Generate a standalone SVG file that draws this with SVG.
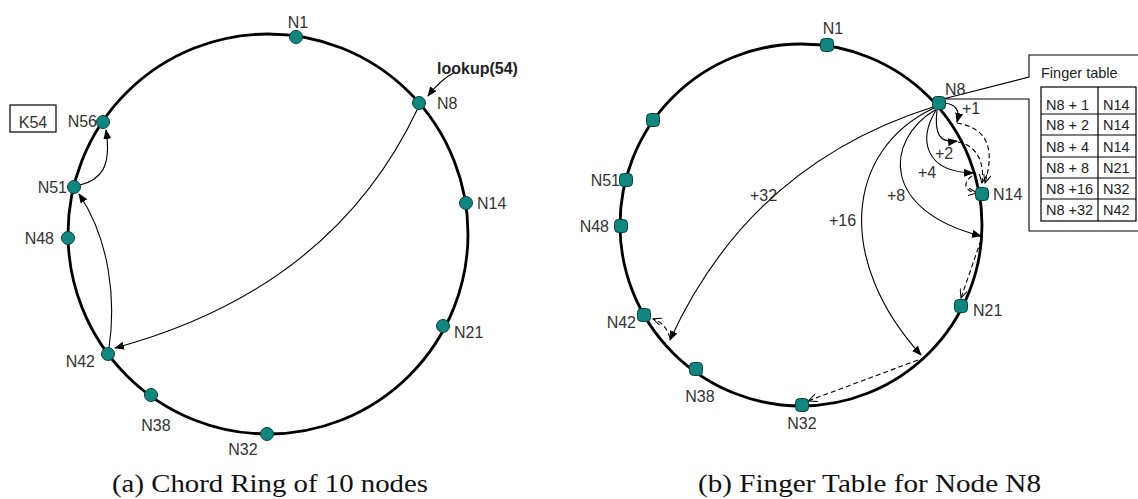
<svg xmlns="http://www.w3.org/2000/svg" width="1138" height="499" viewBox="0 0 1138 499">
<style>
.ring{fill:none;stroke:#000;stroke-width:2.8}
.nd{fill:#10867f;stroke:#0a3f3c;stroke-width:1}
.lbl{font-family:"Liberation Sans",Arial,sans-serif;font-size:16px;fill:#333}
.tbl{font-family:"Liberation Sans",Arial,sans-serif;font-size:14.5px;fill:#222}
.cap{font-family:"Liberation Serif","Times New Roman",serif;font-size:26px;fill:#111}
.arr{fill:none;stroke:#000;stroke-width:1.1}
.dash{fill:none;stroke:#000;stroke-width:1.1;stroke-dasharray:5 3}
</style>
<defs>
<marker id="ah" markerWidth="10" markerHeight="8" refX="9" refY="4" orient="auto" markerUnits="userSpaceOnUse">
<path d="M0,0 L10,4 L0,8 z" fill="#000"/>
</marker>
<marker id="oh" markerWidth="10" markerHeight="8" refX="9" refY="4" orient="auto" markerUnits="userSpaceOnUse">
<path d="M0,0 L9,4 L0,8" fill="none" stroke="#000" stroke-width="1"/>
</marker>
</defs>
<rect width="1138" height="499" fill="#fff"/>

<!-- Left panel -->
<g id="ringA">
<circle class="ring" cx="268" cy="234" r="200"/>
</g>
<g id="connectorsA">
<path class="arr" d="M455,72 Q440,80 428,96" marker-end="url(#ah)"/>
<path class="arr" d="M418,108 Q333,289 115,348" marker-end="url(#ah)"/>
<path class="arr" d="M109,348 C116,300 110,240 79,194" marker-end="url(#ah)"/>
<path class="arr" d="M80,185 C100,180 112,168 106,130" marker-end="url(#ah)"/>
</g>
<g id="a-N1"><circle class="nd" cx="296" cy="37" r="6.5"/><text class="lbl" x="298" y="28" text-anchor="middle">N1</text></g>
<g id="a-N8"><circle class="nd" cx="419" cy="103" r="6.5"/><text class="lbl" x="437" y="109">N8</text></g>
<g id="a-lookup"><text x="437" y="74" font-family="Liberation Sans,Arial,sans-serif" font-size="16" font-weight="bold" fill="#222">lookup(54)</text></g>
<g id="a-N14"><circle class="nd" cx="466" cy="203" r="6.5"/><text class="lbl" x="477" y="209">N14</text></g>
<g id="a-N21"><circle class="nd" cx="443" cy="326" r="6.5"/><text class="lbl" x="454" y="338">N21</text></g>
<g id="a-N32"><circle class="nd" cx="267" cy="434" r="6.5"/><text class="lbl" x="243" y="455" text-anchor="middle">N32</text></g>
<g id="a-N38"><circle class="nd" cx="151" cy="395" r="6.5"/><text class="lbl" x="156" y="431" text-anchor="middle">N38</text></g>
<g id="a-N42"><circle class="nd" cx="108" cy="354" r="6.5"/><text class="lbl" x="95" y="367" text-anchor="end">N42</text></g>
<g id="a-N48"><circle class="nd" cx="68" cy="238" r="6.5"/><text class="lbl" x="54" y="244" text-anchor="end">N48</text></g>
<g id="a-N51"><circle class="nd" cx="74" cy="187" r="6.5"/><text class="lbl" x="67" y="193" text-anchor="end">N51</text></g>
<g id="a-N56"><circle class="nd" cx="103" cy="122" r="6.5"/><text class="lbl" x="97" y="127" text-anchor="end">N56</text></g>
<g id="a-K54"><rect x="10" y="105" width="46" height="27" fill="#fff" stroke="#000" stroke-width="1.2"/><text class="lbl" x="33" y="124" text-anchor="middle" dominant-baseline="middle">K54</text></g>
<text class="cap" x="112" y="492" textLength="316" lengthAdjust="spacingAndGlyphs">(a) Chord Ring of 10 nodes</text>

<!-- Right panel -->
<g id="ringB">
<circle class="ring" cx="801" cy="225" r="181" stroke-width="2.5"/>
</g>
<g id="fingertable">
<path d="M1142,55 L1029,55 L1029,77 L943,99 L1029,99 L1029,231 L1142,231" fill="#fff" stroke="#000" stroke-width="1.1"/>
<text class="tbl" x="1041" y="78">Finger table</text>
<rect x="1041" y="87" width="95" height="134" fill="none" stroke="#000" stroke-width="1.2"/>
<path d="M1041,114 H1136 M1041,135 H1136 M1041,157 H1136 M1041,178 H1136 M1041,199 H1136 M1098,87 V221" stroke="#000" stroke-width="1.2"/>
<text class="tbl" x="1046" y="110">N8 + 1</text><text class="tbl" x="1103" y="110">N14</text>
<text class="tbl" x="1046" y="130">N8 + 2</text><text class="tbl" x="1103" y="130">N14</text>
<text class="tbl" x="1046" y="152">N8 + 4</text><text class="tbl" x="1103" y="152">N14</text>
<text class="tbl" x="1046" y="173">N8 + 8</text><text class="tbl" x="1103" y="173">N21</text>
<text class="tbl" x="1046" y="194">N8 +16</text><text class="tbl" x="1103" y="194">N32</text>
<text class="tbl" x="1046" y="215">N8 +32</text><text class="tbl" x="1103" y="215">N42</text>
</g>
<g id="connectorsB">
<path class="arr" d="M944,103 C956,104 960,110 957,122" marker-end="url(#ah)"/>
<path class="arr" d="M937,110 C934,135 940,143 957,141" marker-end="url(#ah)"/>
<path class="arr" d="M936,110 C918,140 925,172 973,173" marker-end="url(#ah)"/>
<path class="arr" d="M935,110 C885,140 880,210 981,236" marker-end="url(#ah)"/>
<path class="arr" d="M934,108 C845,150 835,260 921,355" marker-end="url(#ah)"/>
<path class="arr" stroke-width="0.9" d="M933,107 Q750,165 670,340" marker-end="url(#ah)"/>
<path class="dash" d="M957,123 C985,128 996,145 985,183" marker-end="url(#oh)"/>
<path class="dash" d="M958,142 C975,145 985,160 982,183" marker-end="url(#oh)"/>
<path class="dash" d="M972,176 C963,182 963,191 977,193" marker-end="url(#oh)"/>
<path class="dash" d="M981,240 L961,298" marker-end="url(#oh)"/>
<path class="dash" d="M918,360 L808,401" marker-end="url(#oh)"/>
<path class="dash" d="M670,338 C667,328 662,322 653,319" marker-end="url(#oh)"/>
</g>
<g id="b-N1"><rect class="nd" x="820.5" y="38.5" width="13" height="13" rx="4"/><text class="lbl" x="833" y="34" text-anchor="middle">N1</text></g>
<g id="b-N8"><rect class="nd" x="932.5" y="96.5" width="13" height="13" rx="4"/><text class="lbl" x="945" y="95">N8</text></g>
<g id="b-N14"><rect class="nd" x="975.5" y="187.5" width="13" height="13" rx="4"/><text class="lbl" x="993" y="200">N14</text></g>
<g id="b-N21"><rect class="nd" x="954.5" y="299.5" width="13" height="13" rx="4"/><text class="lbl" x="973" y="316">N21</text></g>
<g id="b-N32"><rect class="nd" x="795.5" y="398.5" width="13" height="13" rx="4"/><text class="lbl" x="802" y="429" text-anchor="middle">N32</text></g>
<g id="b-N38"><rect class="nd" x="689.5" y="362.5" width="13" height="13" rx="4"/><text class="lbl" x="700" y="402" text-anchor="middle">N38</text></g>
<g id="b-N42"><rect class="nd" x="637.5" y="308.5" width="13" height="13" rx="4"/><text class="lbl" x="636" y="328" text-anchor="end">N42</text></g>
<g id="b-N48"><rect class="nd" x="614.5" y="219.5" width="13" height="13" rx="4"/><text class="lbl" x="609" y="232" text-anchor="end">N48</text></g>
<g id="b-N51"><rect class="nd" x="619.5" y="173.5" width="13" height="13" rx="4"/><text class="lbl" x="620" y="186" text-anchor="end">N51</text></g>
<g id="b-N56"><rect class="nd" x="646.5" y="113.5" width="13" height="13" rx="4"/></g>
<g id="b-labels">
<text class="lbl" x="962" y="114">+1</text>
<text class="lbl" x="935" y="159">+2</text>
<text class="lbl" x="918" y="178">+4</text>
<text class="lbl" x="887" y="201">+8</text>
<text class="lbl" x="829" y="226">+16</text>
<text class="lbl" x="750" y="201">+32</text>
</g>
<text class="cap" x="698" y="492" textLength="343" lengthAdjust="spacingAndGlyphs">(b) Finger Table for Node N8</text>
</svg>
